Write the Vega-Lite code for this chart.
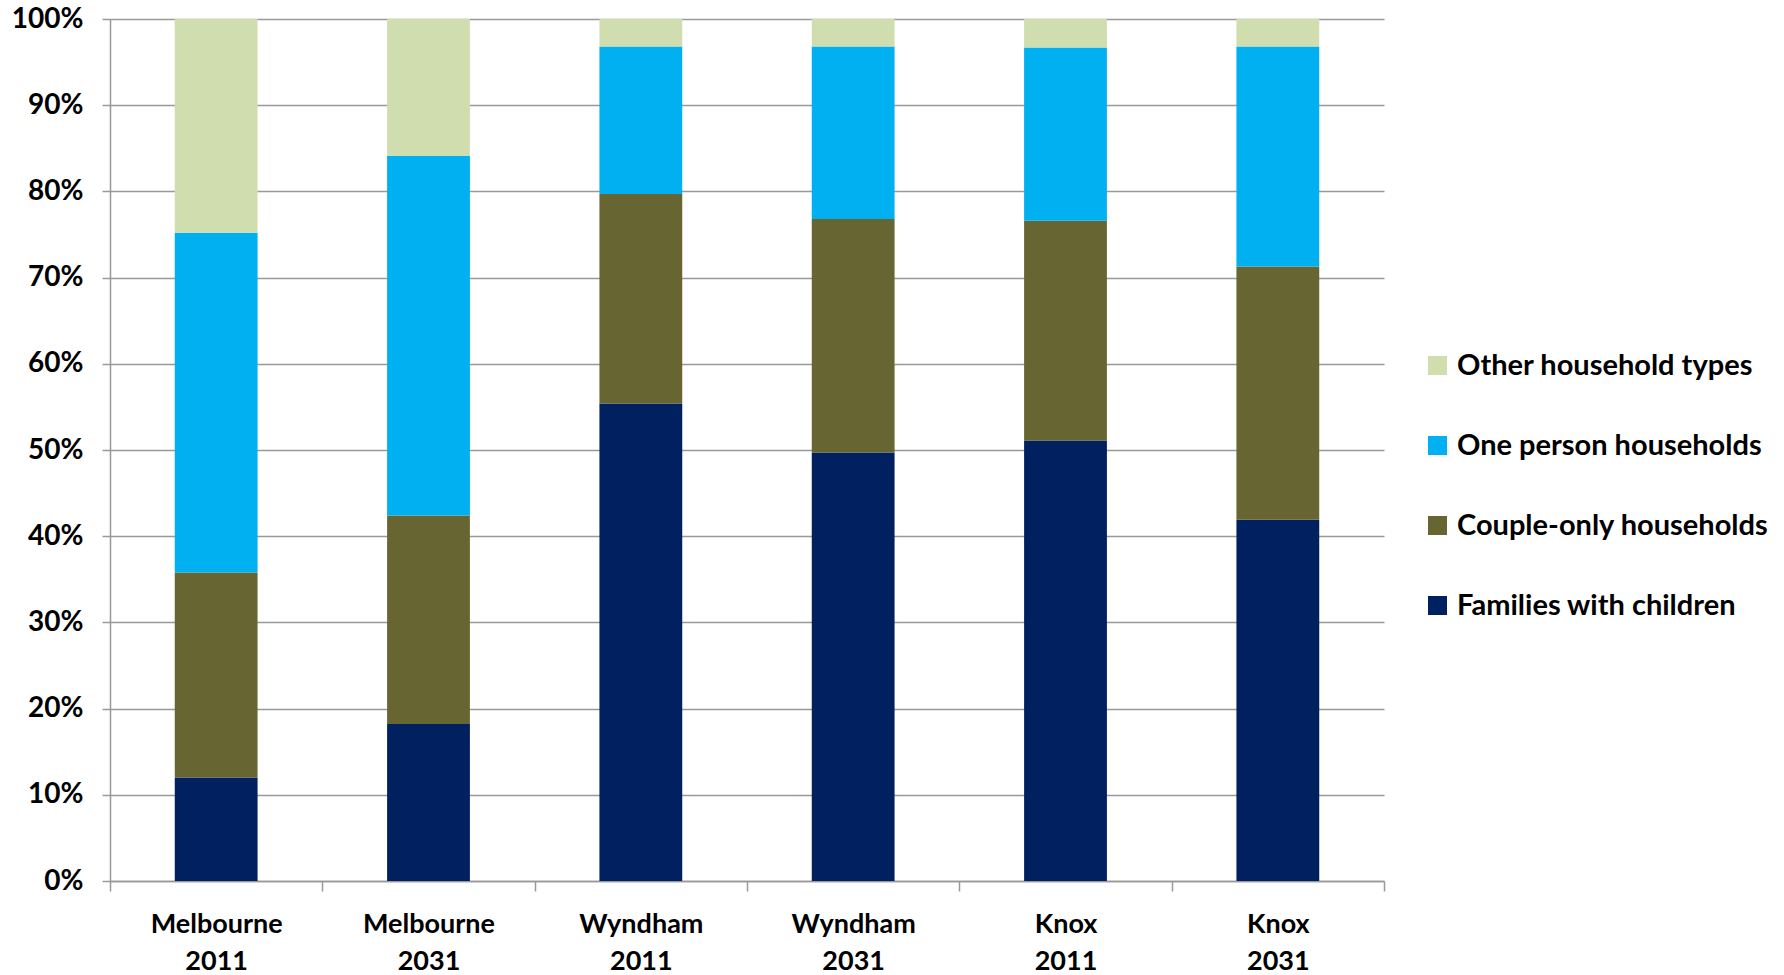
{
  "$schema": "https://vega.github.io/schema/vega-lite/v6.json",
  "autosize": "none",
  "width": 1274,
  "height": 862,
  "padding": {"left": 110, "top": 19, "right": 400, "bottom": 94},
  "background": "white",
  "config": {
    "view": {"stroke": null},
    "font": "Lato"
  },
  "data": {
    "values": [
      {"place": "Melbourne 2011", "type": "Families with children", "share": 0.120},
      {"place": "Melbourne 2011", "type": "Couple-only households", "share": 0.238},
      {"place": "Melbourne 2011", "type": "One person households", "share": 0.394},
      {"place": "Melbourne 2011", "type": "Other household types", "share": 0.248},
      {"place": "Melbourne 2031", "type": "Families with children", "share": 0.182},
      {"place": "Melbourne 2031", "type": "Couple-only households", "share": 0.242},
      {"place": "Melbourne 2031", "type": "One person households", "share": 0.417},
      {"place": "Melbourne 2031", "type": "Other household types", "share": 0.159},
      {"place": "Wyndham 2011", "type": "Families with children", "share": 0.554},
      {"place": "Wyndham 2011", "type": "Couple-only households", "share": 0.243},
      {"place": "Wyndham 2011", "type": "One person households", "share": 0.171},
      {"place": "Wyndham 2011", "type": "Other household types", "share": 0.032},
      {"place": "Wyndham 2031", "type": "Families with children", "share": 0.497},
      {"place": "Wyndham 2031", "type": "Couple-only households", "share": 0.271},
      {"place": "Wyndham 2031", "type": "One person households", "share": 0.200},
      {"place": "Wyndham 2031", "type": "Other household types", "share": 0.032},
      {"place": "Knox 2011", "type": "Families with children", "share": 0.511},
      {"place": "Knox 2011", "type": "Couple-only households", "share": 0.255},
      {"place": "Knox 2011", "type": "One person households", "share": 0.201},
      {"place": "Knox 2011", "type": "Other household types", "share": 0.033},
      {"place": "Knox 2031", "type": "Families with children", "share": 0.419},
      {"place": "Knox 2031", "type": "Couple-only households", "share": 0.294},
      {"place": "Knox 2031", "type": "One person households", "share": 0.255},
      {"place": "Knox 2031", "type": "Other household types", "share": 0.032}
    ]
  },
  "transform": [
    {"calculate": "indexof(['Families with children','Couple-only households','One person households','Other household types'], datum.type)", "as": "stackOrder"}
  ],
  "mark": {"type": "bar", "width": {"band": 0.39}},
  "encoding": {
    "x": {
      "field": "place",
      "type": "nominal",
      "sort": null,
      "title": null,
      "scale": {"paddingInner": 0, "paddingOuter": 0},
      "axis": {
        "labelAngle": 0,
        "labelExpr": "split(datum.label, ' ')",
        "labelFont": "Lato",
        "labelFontWeight": "bold",
        "labelFontSize": 27,
        "labelLineHeight": 37,
        "labelColor": "black",
        "labelPadding": 20,
        "labelBaseline": "top",
        "tickBand": "extent",
        "tickSize": 10,
        "tickColor": "#999999",
        "tickWidth": 1.5,
        "domainColor": "#999999",
        "domainWidth": 1.5,
        "grid": false
      }
    },
    "y": {
      "field": "share",
      "type": "quantitative",
      "stack": "zero",
      "title": null,
      "scale": {"domain": [0, 1], "nice": false},
      "axis": {
        "values": [0, 0.1, 0.2, 0.3, 0.4, 0.5, 0.6, 0.7, 0.8, 0.9, 1.0],
        "format": ".0%",
        "labelFont": "Lato",
        "labelFontWeight": "bold",
        "labelFontSize": 28,
        "labelColor": "black",
        "labelPadding": 19,
        "tickSize": 8,
        "tickColor": "#999999",
        "tickWidth": 1.5,
        "domainColor": "#999999",
        "domainWidth": 1.5,
        "grid": true,
        "gridColor": "#999999",
        "gridWidth": 1.5
      }
    },
    "color": {
      "field": "type",
      "type": "nominal",
      "scale": {
        "domain": ["Families with children", "Couple-only households", "One person households", "Other household types"],
        "range": ["#002060", "#676633", "#00B0F0", "#D0DDAF"]
      },
      "legend": {
        "title": null,
        "values": ["Other household types", "One person households", "Couple-only households", "Families with children"],
        "orient": "none",
        "legendX": 1313,
        "legendY": 332,
        "symbolType": "square",
        "symbolSize": 361,
        "symbolStrokeWidth": 0,
        "symbolOpacity": 1,
        "labelFont": "Lato",
        "labelFontWeight": "bold",
        "labelFontSize": 29,
        "labelColor": "black",
        "labelOffset": 5,
        "rowPadding": 50,
        "labelLimit": 450
      }
    },
    "order": {"field": "stackOrder", "type": "quantitative", "sort": "ascending"}
  }
}
